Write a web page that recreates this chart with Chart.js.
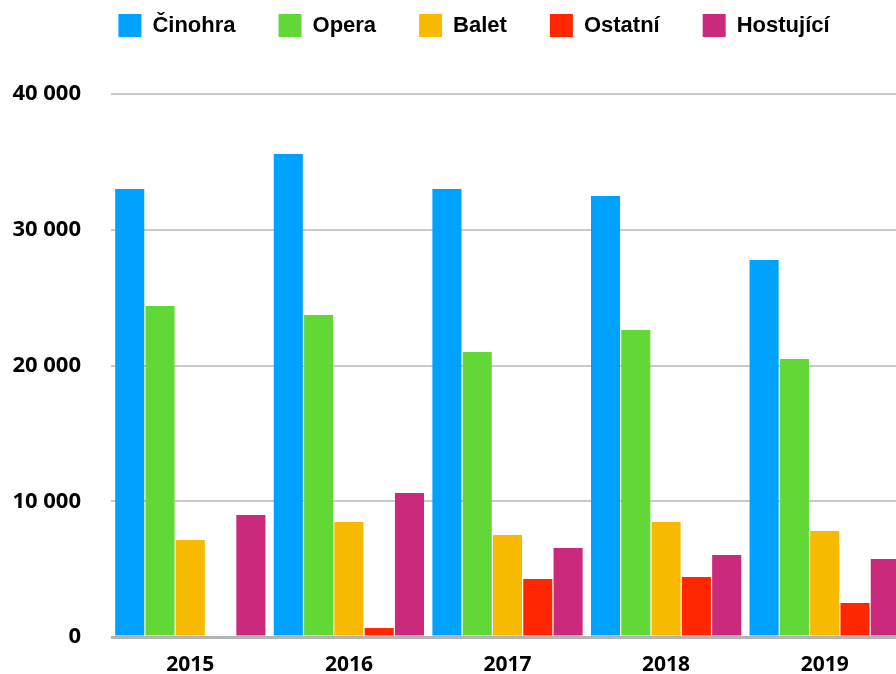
<!DOCTYPE html>
<html>
<head>
<meta charset="utf-8">
<script src="https://cdn.jsdelivr.net/npm/chart.js@4"></script>
<style>
body{margin:0;overflow:hidden;background:#fff;}
#wrap{width:904px;height:674px;}
</style>
</head>
<body>
<div id="wrap"><canvas id="graph"></canvas></div>
<script>

let years=["2015","2016","2017","2018","2019"];

let cinohra=[33000,35580,33000,32490,27770];
let opera=[24380,23720,20990,22610,20480];
let balet=[7150,8470,7510,8470,7810];
let ostatni=[0,660,4270,4420,2500];
let hostujici=[8990,10610,6560,6040,5750];

let yTicks=[0,10000,20000,30000,40000];

function fmt(v){
return String(v).replace(/\B(?=(\d{3})+(?!\d))/g," ");
}

// legend sits higher than chart.js would put it, keep plot top at 94px
const legendHeight={
id:"legendHeight",
beforeInit(chart){
let fit=chart.legend.fit;
chart.legend.fit=function(){
fit.bind(chart.legend)();
this.height=123;
};
},
afterLayout(chart){
// legend is centred a bit right of the canvas centre
chart.legend.left=44;
}
};

let chart=new Chart(document.getElementById("graph"),{

type:"bar",

data:{
labels:years,
datasets:[
{label:"Činohra",data:cinohra,backgroundColor:"#00a2ff"},
{label:"Opera",data:opera,backgroundColor:"#61d836"},
{label:"Balet",data:balet,backgroundColor:"#f8ba00"},
{label:"Ostatní",data:ostatni,backgroundColor:"#ff2600"},
{label:"Hostující",data:hostujici,backgroundColor:"#cb297b"}
]
},

options:{
responsive:true,
maintainAspectRatio:false,
animation:false,
layout:{padding:{top:-29,left:0,right:0,bottom:0}},
datasets:{bar:{categoryPercentage:0.955,barPercentage:0.96}},
plugins:{
legend:{
labels:{
boxWidth:23,
boxHeight:23,
padding:43,
color:"#000",
font:{family:"Liberation Sans",size:22,weight:"bold"}
}
},
tooltip:{enabled:false}
},
scales:{
x:{
grid:{display:false,drawTicks:false},
border:{display:false},
ticks:{
color:"#000",
padding:15,
font:{family:"Open Sans",size:21,weight:"bold"}
},
afterFit(s){s.height=37;}
},
y:{
min:0,
max:40000,
afterBuildTicks(s){s.ticks=yTicks.map(v=>({value:v}));},
grid:{
drawTicks:false,
color:c=>c.tick&&c.tick.value===0?"#b4b4b4":"#c8c8c8",
lineWidth:c=>c.tick&&c.tick.value===0?3:2
},
border:{display:false},
ticks:{
color:"#000",
padding:30,
font:{family:"Open Sans",size:22,weight:"bold"},
callback:v=>fmt(v)
},
afterFit(s){
s.width=111;
s.paddingTop=0;
s.paddingBottom=0;
}
}
}
},

plugins:[legendHeight]

});

</script>
</body>
</html>
